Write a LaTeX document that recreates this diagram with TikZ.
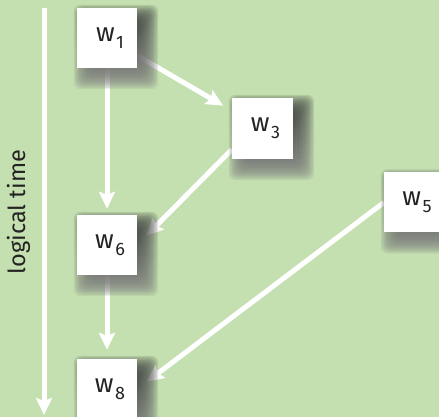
\documentclass[tikz,border=0pt]{standalone}
\usepackage{fontspec}
\setmainfont{Fira Sans}
\usetikzlibrary{arrows.meta,calc}
\definecolor{bggreen}{RGB}{196,224,176}
\definecolor{ink}{RGB}{35,35,35}
\definecolor{shade}{RGB}{20,40,20}
\newcommand\wsub[1]{\hspace*{6pt}w\kern1.5pt\raisebox{-7pt}{\fontsize{18}{18}\selectfont #1}}
% soft drop shadow built from stacked translucent rectangles
\newcommand\softshadow[1]{%
  \foreach \k in {0,...,17}{%
    \pgfmathsetmacro\d{-12+24*\k/17}%
    \fill[shade, opacity=0.075, rounded corners=7pt]
      ($(#1.south west)+(9+\d,-9+\d)$) rectangle ($(#1.north east)+(9-\d,-9-\d)$);
  }}
\tikzset{
  event/.style={fill=white, draw=none, minimum width=60pt, minimum height=60pt,
    inner sep=0pt, text=ink, font=\fontsize{26}{28}\selectfont},
  slot/.style={minimum width=60pt, minimum height=60pt, inner sep=0pt},
  arr/.style={draw=white, line width=5pt,
    -{Stealth[length=17pt, width=16pt, inset=3pt]}},
}
\begin{document}
\begin{tikzpicture}[x=1pt, y=1pt]
  \path[use as bounding box, clip] (0,0) rectangle (439,417);
  \fill[bggreen] (0,0) rectangle (439,417);

  % time axis
  \coordinate (t0) at (44,409);
  \coordinate (t1) at (44,2);
  \draw[arr] (t0) -- (t1);
  \node[rotate=90, text=ink, font=\fontsize{23.5}{26}\selectfont] (lt) at (19,205) {logical time};

  % event positions
  \coordinate (c1) at (107,379);
  \coordinate (c3) at (262.5,288.5);
  \coordinate (c5) at (414,214.5);
  \coordinate (c6) at (107,172);
  \coordinate (c8) at (107,28);

  \path (c1) node[slot] (b1) {}
        (c3) node[slot, minimum width=61pt, minimum height=61pt] (b3) {}
        (c5) node[slot] (b5) {}
        (c6) node[slot] (b6) {}
        (c8) node[slot] (b8) {};

  % dependency arrows
  \draw[arr, shorten >=10pt] (b1) -- (b3);
  \draw[arr, shorten >=6pt] (b1.south) -- (b6.north);
  \draw[arr, shorten >=13pt] ($(b3.west)+(0,-21)$) -- (b6.east);
  \draw[arr, shorten >=9pt] (b6.south) -- (b8.north);
  \draw[arr, shorten >=12pt] (b5.west) -- (b8.east);

  % shadows fall over the arrows
  \softshadow{b1}\softshadow{b3}\softshadow{b5}\softshadow{b6}\softshadow{b8}

  \node[event] (w1) at (c1) {\wsub{1}};
  \node[event, minimum width=61pt, minimum height=61pt] (w3) at (c3) {\wsub{3}};
  \node[event] (w5) at (c5) {\wsub{5}};
  \node[event] (w6) at (c6) {\wsub{6}};
  \node[event] (w8) at (c8) {\wsub{8}};
\end{tikzpicture}
\end{document}
